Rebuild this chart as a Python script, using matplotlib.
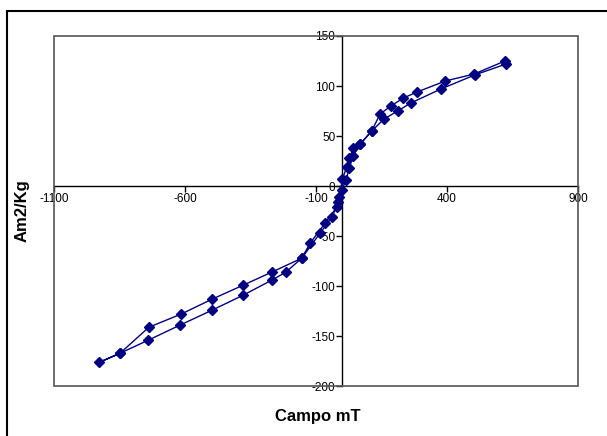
import matplotlib
matplotlib.use("Agg")
import matplotlib.pyplot as plt
from matplotlib.patches import Rectangle

plt.rcParams["font.family"] = ["Liberation Sans", "DejaVu Sans"]
plt.rcParams["axes.unicode_minus"] = False

# descending branch (from +max field to -max field)
campo_desc = [621, 503, 393, 285, 233, 185, 144, 112, 68, 42, 27, 17, 0, -11, -21,
              -66, -123, -155, -270, -379, -498, -617, -739, -849, -928]
mag_desc = [125, 112, 105, 94, 88, 80, 72, 55, 42, 38, 28, 19, 7, -11, -21,
            -37, -57, -72, -86, -99, -113, -128, -141, -167, -176]

# ascending branch (from -max field back to +max field)
campo_asc = [-849, -742, -621, -498, -379, -270, -216, -155, -85, -40, -15, -2, 14,
             27, 40, 68, 112, 159, 211, 261, 376, 505, 625]
mag_asc = [-167, -154, -139, -124, -109, -94, -86, -72, -47, -31, -16, -4, 6,
           18, 30, 42, 55, 67, 75, 83, 97, 111, 122]

x_ticks = [-1100, -600, -100, 400, 900]
y_ticks = [-200, -150, -100, -50, 0, 50, 100, 150]

W, H = 607, 436
fig = plt.figure(figsize=(W / 100, H / 100), dpi=100)
ax = fig.add_axes([54.3 / W, 1 - 386.3 / H, (578 - 54.3) / W, (386.3 - 36) / H])

navy = "#000080"
campo = campo_desc + campo_asc
mag = mag_desc + mag_asc
ax.plot(campo, mag, color=navy, lw=1, marker="D", ms=5, mfc=navy, mec=navy, zorder=3)

ax.set_xlim(-1100, 900)
ax.set_ylim(-200, 150)
ax.set_xticks(x_ticks)
ax.set_yticks(y_ticks)

# axes cross at the origin, plot area framed separately
for side in ["top", "right"]:
    ax.spines[side].set_visible(False)
ax.spines["left"].set_position(("data", 0))
ax.spines["bottom"].set_position(("data", 0))
for side in ["left", "bottom"]:
    ax.spines[side].set_color("black")
    ax.spines[side].set_linewidth(1)
ax.add_patch(Rectangle((0, 0), 1, 1, transform=ax.transAxes, fill=False,
                       ec="#555555", lw=1.2, zorder=4, clip_on=False))

ax.tick_params(direction="out", length=4, width=1, labelsize=8.5, pad=1)

fig.text(22 / W, 1 - 211 / H, "Am2/Kg", rotation=90, fontsize=12, fontweight="bold",
         ha="center", va="center")
fig.text(318 / W, 1 - 416 / H, "Campo mT", fontsize=12, fontweight="bold",
         ha="center", va="center")

# outer chart border (cut by the image edge on the right and bottom)
fig.add_artist(Rectangle((7.3 / W, -0.1), 1.2, 1 - 10.7 / H + 0.1, transform=fig.transFigure,
                         fill=False, ec="black", lw=1.5))

fig.savefig("out.png", dpi=100)
